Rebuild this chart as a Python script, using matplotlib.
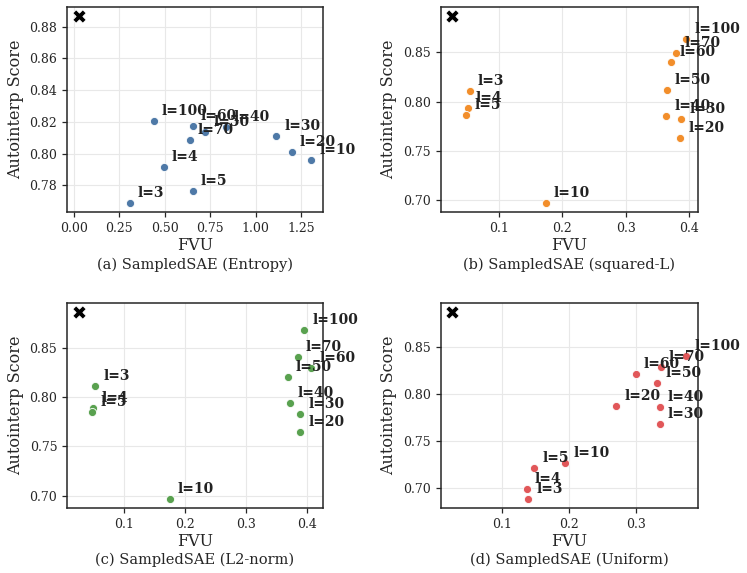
import matplotlib
matplotlib.use("Agg")
import matplotlib.pyplot as plt

labels = ["l=3", "l=4", "l=5", "l=10", "l=20", "l=30", "l=40", "l=50", "l=60", "l=70", "l=100"]

entropy_fvu = [0.306, 0.493, 0.653, 1.306, 1.197, 1.113, 0.835, 0.722, 0.654, 0.636, 0.440]
entropy_score = [0.769, 0.7918, 0.7765, 0.7958, 0.8008, 0.8113, 0.817, 0.8138, 0.8176, 0.8088, 0.8208]

squared_fvu = [0.0536, 0.0499, 0.0477, 0.174, 0.386, 0.388, 0.3642, 0.365, 0.372, 0.380, 0.396]
squared_score = [0.8107, 0.7937, 0.7866, 0.6972, 0.7625, 0.7823, 0.785, 0.8117, 0.8398, 0.849, 0.8635]

l2_fvu = [0.0535, 0.0498, 0.048, 0.175, 0.389, 0.389, 0.3715, 0.368, 0.407, 0.385, 0.3955]
l2_score = [0.811, 0.789, 0.7847, 0.697, 0.765, 0.783, 0.7944, 0.8202, 0.830, 0.8412, 0.868]

uniform_fvu = [0.139, 0.137, 0.148, 0.1945, 0.270, 0.335, 0.335, 0.331, 0.299, 0.3363, 0.3746]
uniform_score = [0.6887, 0.699, 0.7208, 0.727, 0.787, 0.768, 0.786, 0.8118, 0.821, 0.8288, 0.8404]

baseline_fvu = 0.026
baseline_score = 0.8866

panels = [
    ("(a) SampledSAE (Entropy)", entropy_fvu, entropy_score, "#4e79a7"),
    ("(b) SampledSAE (squared-L)", squared_fvu, squared_score, "#f28e2b"),
    ("(c) SampledSAE (L2-norm)", l2_fvu, l2_score, "#59a14f"),
    ("(d) SampledSAE (Uniform)", uniform_fvu, uniform_score, "#e15759"),
]

plt.rcParams["font.family"] = ["DejaVu Serif"]
plt.rcParams["axes.edgecolor"] = "#262626"
plt.rcParams["xtick.color"] = "#262626"
plt.rcParams["ytick.color"] = "#262626"
plt.rcParams["text.color"] = "#262626"
plt.rcParams["axes.labelcolor"] = "#262626"

fig = plt.figure(figsize=(7.47, 5.73), dpi=100)

W, H = 747, 573
boxes = [
    (67, 7, 323, 212),
    (440.7, 7, 698, 212),
    (67, 302.7, 323, 508),
    (440.7, 302.7, 698, 508),
]
caption_y = [265, 560]

for i, ((title, xs, ys, color), (l, t, r, b)) in enumerate(zip(panels, boxes)):
    ax = fig.add_axes([l / W, 1 - b / H, (r - l) / W, (b - t) / H])
    ax.grid(True, color="#e8e8e8", linewidth=0.8)
    ax.set_axisbelow(True)
    ax.scatter(xs, ys, s=34, color=color, edgecolor="white", linewidth=0.6, zorder=3)
    ax.scatter([baseline_fvu], [baseline_score], s=90, marker="X", color="black",
               edgecolor="white", linewidth=0.5, zorder=4)
    for lab, x, y in zip(labels, xs, ys):
        ax.annotate(lab, (x, y), xytext=(5.8, 4.3), textcoords="offset points",
                    ha="left", va="baseline", fontsize=10, fontweight="bold",
                    color="#222222", annotation_clip=False, zorder=5)
    ax.set_xlabel("FVU", fontsize=11.5, labelpad=2)
    ax.set_ylabel("Autointerp Score", fontsize=11.5)
    ax.tick_params(labelsize=9, length=3.5, width=0.9, direction="out")
    for sp in ax.spines.values():
        sp.set_linewidth(1.1)
    if i == 0:
        ax.set_yticks([0.78, 0.80, 0.82, 0.84, 0.86, 0.88])
        ax.set_xticks([0.0, 0.25, 0.5, 0.75, 1.0, 1.25])
        ax.set_xticklabels(["0.00", "0.25", "0.50", "0.75", "1.00", "1.25"])
    else:
        ax.set_yticks([0.70, 0.75, 0.80, 0.85])
    cx = (l + r) / 2 / W
    cy = 1 - caption_y[i // 2] / H
    fig.text(cx, cy, title, ha="center", va="center", fontsize=10.5)

fig.savefig("out.png", dpi=100)
